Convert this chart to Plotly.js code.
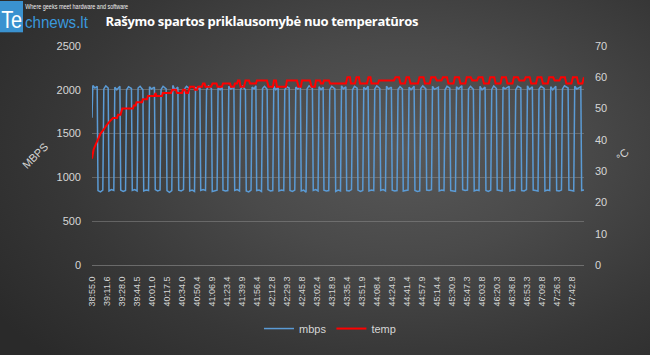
<!DOCTYPE html>
<html>
<head>
<meta charset="utf-8">
<script src="https://cdn.plot.ly/plotly-3.0.1.min.js"></script>
<style>
  html, body { margin: 0; padding: 0; }
  body { width: 650px; height: 355px; overflow: hidden;
    background: radial-gradient(ellipse 75% 85% at 62% 42%, #585858 0%, #4a4a4a 35%, #373737 70%, #2a2a2a 100%); }
  #chart { width: 650px; height: 355px; }
</style>
</head>
<body>
<div id="chart"></div>
<script>
// ---- tick labels (time stamps shown on the category axis) ----
const tickLabels = ["38:55.0","39:11.6","39:28.0","39:44.5","40:01.0","40:17.5","40:34.0","40:50.4",
  "41:06.9","41:23.4","41:39.9","41:56.4","42:12.8","42:29.3","42:45.8","43:02.4","43:18.9",
  "43:35.4","43:51.9","44:08.4","44:24.9","44:41.4","44:57.9","45:14.4","45:30.9","45:47.3",
  "46:03.8","46:20.3","46:36.8","46:53.3","47:09.8","47:26.3","47:42.8"];

// ---- mbps series: seconds since 38:55.0, MB/s ----
const mbpsT = [0,0.9,3.2,5.7,
 6.6,9.3,11.9,13.0,15.2,17.8,
 18.7,21.4,24.0,25.1,27.3,30.7,
 31.6,34.3,36.9,38.0,40.2,43.4,
 44.3,47.0,49.6,50.7,52.9,56.0,
 56.9,59.6,62.2,63.3,65.5,68.7,
 69.6,72.3,74.9,76.0,78.2,81.6,
 82.5,85.2,87.8,88.9,91.1,94.5,
 95.4,98.1,100.7,101.8,104.0,106.6,
 107.5,110.2,112.8,113.9,116.1,118.7,
 119.6,122.3,124.9,126.0,128.2,131.4,
 132.3,135.0,137.6,138.7,140.9,143.2,
 144.1,146.8,149.4,150.5,152.7,156.1,
 157.0,159.7,162.3,163.4,165.6,168.8,
 169.7,172.4,175.0,176.1,178.3,180.3,
 181.2,183.9,186.5,187.6,189.8,192.7,
 193.6,196.3,198.9,200.0,202.2,204.8,
 205.7,208.4,211.0,212.1,214.3,216.9,
 217.8,220.5,223.1,224.2,226.4,229.3,
 230.2,232.9,235.5,236.6,238.8,242.5,
 243.4,246.1,248.7,249.8,252.0,254.3,
 255.2,257.9,260.5,261.6,263.8,267.2,
 268.1,270.8,273.4,274.5,276.7,279.3,
 280.2,282.9,285.5,286.6,288.8,291.7,
 292.6,295.3,297.9,299.0,301.2,303.8,
 304.7,307.4,310.0,311.1,313.3,316.7,
 317.6,320.3,322.9,324.0,326.2,329.4,
 330.3,333.0,335.6,336.7,338.9,341.5,
 342.4,345.1,347.7,348.8,351.0,354.4,
 355.3,358.0,360.6,361.7,363.9,367.3,
 368.2,370.9,373.5,374.6,376.8,381.1,
 382.0,384.7,387.3,388.4,390.6,393.7,
 394.6,397.3,399.9,401.0,403.2,406.9,
 407.8,410.5,413.1,414.2,416.4,419.6,
 420.5,423.2,425.8,426.9,429.1,432.5,
 433.4,436.1,438.7,439.8,442.0,444.9,
 445.8,448.5,451.1,452.2,454.4,458.9,
 459.8,462.5,465.1,466.2,468.4,471.8,
 472.7,475.4,478.0,479.1,481.3,484.5,
 485.4,488.1,490.7,491.8,494.0,497.4,
 498.3,501.0,503.6,504.7,506.9,510.3,
 511.2,513.9,516.5,517.6,519.8,523.8,
 524.7,527.4,530.0,531.1,533.3,537.8,
 538.7,541.3];
const mbpsV = [1680,2050,2020,2040,
 850,835,855,2010,2045,2020,
 845,860,850,2030,2000,2040,
 855,840,850,2000,2035,2015,
 850,860,845,2020,2040,2000,
 845,855,850,2035,2010,2030,
 860,845,855,2005,2040,2010,
 850,830,850,2050,2000,2030,
 855,845,860,2010,2040,2020,
 845,855,840,2030,2005,2040,
 850,860,850,2000,2045,2015,
 840,850,855,2025,2000,2035,
 855,845,850,2040,2010,2030,
 850,860,845,2005,2040,2000,
 845,835,855,2030,2010,2045,
 850,855,840,2015,2040,2005,
 860,845,850,2040,2000,2030,
 845,855,850,2000,2035,2020,
 850,840,855,2030,2010,2040,
 845,855,830,2010,2045,2015,
 850,860,845,2035,2000,2030,
 855,845,850,2005,2040,2010,
 840,855,845,2045,2010,2035,
 850,845,860,2000,2040,2020,
 855,840,850,2030,2005,2040,
 845,855,850,2010,2045,2015,
 850,860,845,2040,2010,2030,
 855,845,850,2005,2035,2010,
 845,850,855,2030,2000,2040,
 850,840,845,2015,2045,2010,
 855,850,860,2040,2005,2030,
 845,855,850,2000,2040,2020,
 850,845,840,2035,2010,2045,
 860,850,855,2010,2040,2005,
 845,855,850,2040,2000,2030,
 850,840,855,2005,2045,2015,
 855,850,845,2030,2010,2040,
 845,855,850,2000,2040,2020,
 850,845,860,2045,2005,2035,
 855,850,845,2010,2040,2015,
 845,855,850,2035,2000,2040,
 850,845,855,2010,2045,2020,
 855,850,845,2040,2010,2035,
 850,855];

// ---- temp series: seconds since 38:55.0, degrees C ----
const tempT = [0,0.9,1.8,3.3,5.0,6.0,7.7,9.4,12.1,14.3,17.0,19.8,23.1,27.5,28.6,31.4,32.3,33.3,
 45.0,46.0,48.0,49.0,55.0,56.0,60.5,61.5,68.8,69.8,71.0,77.0,78.0,
 86.9,88.3,92.4,93.5,99.0,100.1,102.3,103.4,105.6,106.7,107.8,112.2,113.3,115.5,116.6,
 121.0,122.1,123.8,124.9,130.9,132.6,137.0,138.1,143.0,144.1,151.8,152.9,156.2,157.3,
 159.5,160.6,162.3,163.4,167.2,168.9,172.7,173.8,180.4,181.5,192.5,194.2,199.1,200.2,
 202.4,203.5,213.4,214.5,225.5,227.2,229.9,231.0,239.8,241.5,245.3,246.4,250.8,251.9,
 254.1,255.2,260.7,261.8,279.4,281.0,283.8,284.9,289.3,291.0,293.7,294.8,302.5,304.2,
 306.4,307.5,314.6,315.7,332.2,333.9,337.7,339.4,344.3,346.0,348.7,350.4,358.6,
 360.3,364.7,366.3,371.6,
 373.2,377.6,379.2,384.5,
 386.1,390.5,392.1,397.7,
 399.3,403.7,405.3,410.7,
 412.3,416.7,418.3,423.6,
 425.2,429.6,431.2,436.5,
 438.1,442.5,444.1,449.4,
 451.0,455.4,457.0,462.6,
 464.2,468.6,470.2,475.6,
 477.2,481.6,483.2,488.5,
 490.1,494.5,496.1,501.4,
 503.0,507.4,509.0,514.3,
 515.9,520.3,521.9,527.5,
 529.1,533.5,535.1,539.5,
 541.2];
const tempV = [34,36,37,38,39,40,41,42,43,44,45,46,47,47,48,48,49,50,
 50,51,51,52,52,53,53,54,54,55,54,54,55,
 55,56,56,55,55,56,56,55,55,56,57,57,56,56,57,
 57,58,58,57,57,58,58,57,57,58,58,57,57,58,
 58,59,59,57,57,59,59,58,58,59,59,57,57,59,
 59,57,57,59,59,57,57,59,59,57,57,59,59,58,
 58,59,59,58,58,60,60,58,58,60,60,58,58,60,
 60,58,58,59,59,60,60,58,58,60,60,58,58,
 60,60,58,58,
 60,60,59,59,
 60,60,58,58,
 60,60,58,58,
 60,60,59,59,
 60,60,58,58,
 60,60,58,58,
 60,60,58,58,
 60,60,59,59,
 60,60,58,58,
 60,60,58,58,
 60,60,59,59,
 60,60,58,58,
 60,60,58,58,
 60];

// ---- layout helpers (pixel -> paper coordinates) ----
const PL = 92, PR = 584, PT = 46, PB = 270;
const px = v => (v - PL) / (PR - PL);
const py = v => (PB - v) / (PB - PT);
const toSec = s => { const [m, r] = s.split(":"); return (parseFloat(m) * 60 + parseFloat(r)) - (38 * 60 + 55.0); };

const txt = '#d6d6d6';
const font = 'Liberation Sans, Arial, sans-serif';

const traces = [
  { x: mbpsT, y: mbpsV, name: 'mbps', type: 'scatter', mode: 'lines',
    line: { color: '#5b9bd5', width: 1.5 }, yaxis: 'y' },
  { x: tempT, y: tempV, name: 'temp', type: 'scatter', mode: 'lines',
    line: { color: '#ff0000', width: 2 }, yaxis: 'y2' }
];

// annotation index -> fitted text width in px (logo / title fitting)
const fitWidths = { 0: [21, 'spacingAndGlyphs'], 1: [63, 'spacingAndGlyphs'], 2: [103, 'spacingAndGlyphs'], 3: [313, 'spacing'] };

const layout = {
  width: 650, height: 355,
  margin: { l: PL, r: 650 - PR, t: PT, b: 355 - PB, pad: 0 },
  paper_bgcolor: 'rgba(0,0,0,0)', plot_bgcolor: 'rgba(0,0,0,0)',
  showlegend: true,
  legend: { orientation: 'h', x: px(330), y: py(335), xanchor: 'center', yanchor: 'middle',
    font: { family: font, size: 11, color: txt }, bgcolor: 'rgba(0,0,0,0)' },
  xaxis: { range: [0, 541.3], tickvals: tickLabels.map(toSec), ticktext: tickLabels,
    tickangle: -90, tickfont: { family: font, size: 9, color: txt },
    showgrid: false, zeroline: false, showline: true, linecolor: 'rgba(150,150,150,0.55)', linewidth: 1,
    ticks: '', ticklabelstandoff: 7, fixedrange: true },
  yaxis: { range: [0, 2500], dtick: 500, tickfont: { family: font, size: 11, color: txt },
    gridcolor: 'rgba(150,150,150,0.45)', gridwidth: 1, zeroline: false, showline: false,
    ticks: '', ticklabelstandoff: 10 },
  yaxis2: { range: [0, 70], dtick: 10, overlaying: 'y', side: 'right',
    tickfont: { family: font, size: 11, color: txt }, showgrid: false, zeroline: false,
    showline: false, ticks: '', ticklabelstandoff: 10 },
  shapes: [
    { type: 'rect', xref: 'paper', yref: 'paper', x0: px(0), x1: px(23), y0: py(32), y1: py(0),
      fillcolor: '#3a92d0', line: { width: 0 }, layer: 'above' }
  ],
  annotations: [
    { text: 'Te', xref: 'paper', yref: 'paper', x: px(11.5), y: py(19), xanchor: 'center', yanchor: 'middle',
      showarrow: false, font: { family: font, size: 24, color: '#ffffff' } },
    { text: 'chnews.lt', xref: 'paper', yref: 'paper', x: px(56), y: py(22), xanchor: 'center', yanchor: 'middle',
      showarrow: false, font: { family: font, size: 17, color: '#3a98dc' } },
    { text: 'Where geeks meet hardware and software', xref: 'paper', yref: 'paper', x: px(76.5), y: py(6), xanchor: 'center', yanchor: 'middle',
      showarrow: false, font: { family: font, size: 7.5, color: '#f0f0f0' } },
    { text: '<b>Rašymo spartos priklausomybė nuo temperatūros</b>', xref: 'paper', yref: 'paper', x: px(261.5), y: py(20),
      xanchor: 'center', yanchor: 'middle', showarrow: false,
      font: { family: 'Open Sans, sans-serif', size: 13, color: '#ffffff' } },
    { text: 'MBPS', xref: 'paper', yref: 'paper', x: px(35), y: py(159), xanchor: 'center', yanchor: 'middle',
      textangle: -45, showarrow: false, font: { family: font, size: 11, color: txt } },
    { text: '°C', xref: 'paper', yref: 'paper', x: px(622), y: py(157), xanchor: 'center', yanchor: 'middle',
      textangle: -45, showarrow: false, font: { family: font, size: 11, color: txt } }
  ]
};

Plotly.newPlot('chart', traces, layout, { displayModeBar: false, staticPlot: true }).then(gd => {
  const texts = gd.querySelectorAll('.annotation .annotation-text');
  Object.keys(fitWidths).forEach(k => {
    const t = texts[+k];
    if (!t) return;
    t.setAttribute('textLength', fitWidths[k][0]);
    t.setAttribute('lengthAdjust', fitWidths[k][1]);
  });
});
</script>
</body>
</html>
